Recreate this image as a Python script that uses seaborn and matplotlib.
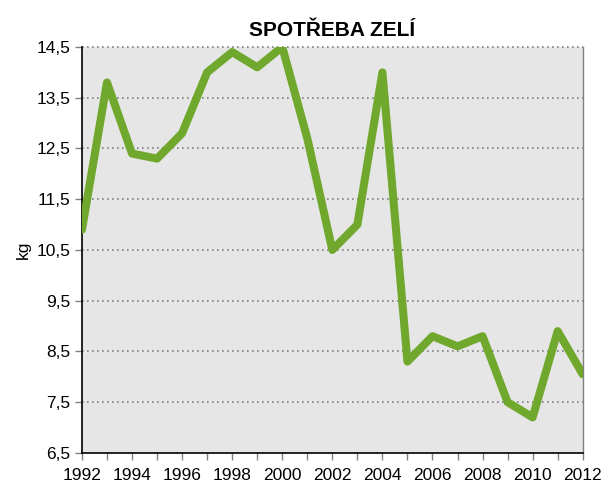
import numpy as np
import pandas as pd
import matplotlib
matplotlib.use("Agg")
import matplotlib.pyplot as plt
import seaborn as sns
from matplotlib.ticker import FuncFormatter, MultipleLocator

# data
years = list(range(1992, 2013))
kg = [10.9, 13.8, 12.4, 12.3, 12.8, 14.0, 14.4, 14.1, 14.5, 12.7,
      10.5, 11.0, 14.0, 8.3, 8.8, 8.6, 8.8, 7.5, 7.2, 8.9, 8.05]
y_ticks = [6.5, 7.5, 8.5, 9.5, 10.5, 11.5, 12.5, 13.5, 14.5]
x_ticks = list(range(1992, 2013, 2))

sns.set_style("white")
plt.rcParams['font.family'] = ['Liberation Sans', 'DejaVu Sans']
plt.rcParams['text.color'] = 'black'
plt.rcParams['axes.labelcolor'] = 'black'

df = pd.DataFrame({'rok': years, 'kg': kg})

fig = plt.figure(figsize=(6.07, 4.87), dpi=100)
ax = fig.add_axes([0.135, 0.07, 0.825, 0.8335])
ax.set_facecolor('#e6e6e6')

# tečkovaná mřížka
for yv in y_ticks[1:]:
    ax.axhline(yv, color='#808080', lw=1.2, ls=(0, (1, 2)), zorder=1, clip_on=False)

sns.lineplot(data=df, x='rok', y='kg', ax=ax, color='#6fa82c', lw=5.8,
             solid_capstyle='round', solid_joinstyle='round', zorder=3)

ax.set_xlim(1992, 2012)
ax.set_ylim(6.5, 14.5)
ax.set_xticks(x_ticks)
ax.xaxis.set_minor_locator(MultipleLocator(1))
ax.set_yticks(y_ticks)
ax.yaxis.set_major_formatter(FuncFormatter(lambda v, p: f"{v:.1f}".replace('.', ',')))
ax.tick_params(axis='both', which='both', direction='out', length=5, width=1,
               color='#808080', labelsize=12.5, labelcolor='black', left=True, bottom=True)
ax.tick_params(axis='x', pad=6)

for s in ['left', 'bottom']:
    ax.spines[s].set_color('black')
    ax.spines[s].set_linewidth(1.2)
ax.spines['right'].set_color('#808080')
ax.spines['right'].set_linewidth(1)
ax.spines['top'].set_visible(False)

ax.set_xlabel('')
ax.set_ylabel('kg', fontsize=12.5)
ax.set_title('SPOTŘEBA ZELÍ', fontsize=15, fontweight='bold', pad=8, color='black')

fig.savefig('out.png', dpi=100)
